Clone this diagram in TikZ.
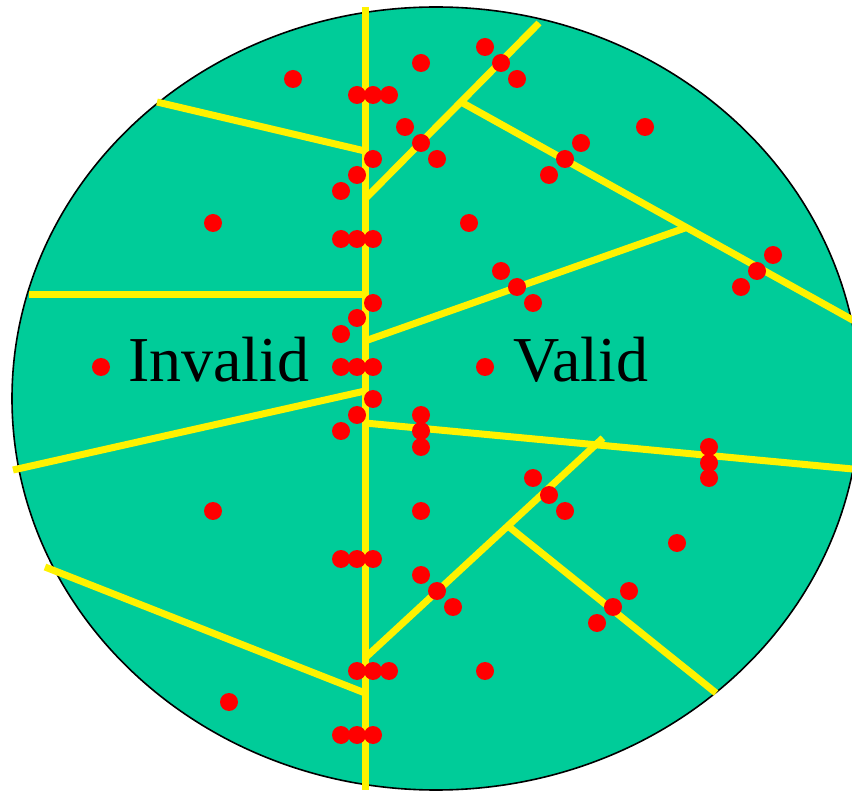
\documentclass[tikz,border=0pt]{standalone}
\usepackage{fontspec}
\setmainfont{Liberation Serif}
\definecolor{regiongreen}{RGB}{0,204,153}
\tikzset{
  border/.style={draw=black,line width=1.6pt,fill=regiongreen},
  wall/.style={draw=yellow,line width=7pt,line cap=butt},
  pt/.style={fill=red,draw=none},
  lbl/.style={inner sep=0pt,anchor=base west,font=\fontsize{64}{72}\selectfont}
}
\begin{document}
\begin{tikzpicture}[x=1pt,y=-1pt]
\clip (0,0) rectangle (852,791);
\fill[white] (0,0) rectangle (852,791);
\draw[border] (436,398.5) ellipse [x radius=424pt, y radius=391.5pt];
% junction coordinates
\coordinate (vt) at (365,7);
\coordinate (vb) at (365,790);
\coordinate (a1) at (157,102);
\coordinate (a2) at (365,151);
\coordinate (j1) at (365,199);
\coordinate (e1) at (539,23);
\coordinate (j2) at (461,102);
\coordinate (e2) at (858,323);
\coordinate (j3) at (365,341);
\coordinate (j4) at (685,228);
\coordinate (h1) at (29,295);
\coordinate (h2) at (365,295);
\coordinate (l1) at (13,470);
\coordinate (l2) at (365,391);
\coordinate (r1) at (365,423);
\coordinate (r2) at (858,469.5);
\coordinate (m1) at (365,658);
\coordinate (m2) at (603,438);
\coordinate (m3) at (508,526);
\coordinate (m4) at (716,693);
\coordinate (b1) at (45,567);
\coordinate (b2) at (365,693);
% yellow boundaries
\draw[wall] (vt) -- (vb);
\draw[wall] (a1) -- (a2);
\draw[wall] (j1) -- (e1);
\draw[wall] (j2) -- (e2);
\draw[wall] (j3) -- (j4);
\draw[wall] (h1) -- (h2);
\draw[wall] (l1) -- (l2);
\draw[wall] (r1) -- (r2);
\draw[wall] (m1) -- (m2);
\draw[wall] (m3) -- (m4);
\draw[wall] (b1) -- (b2);
% red points
\foreach \px/\py in {293/79, 357/95, 373/95, 389/95, 421/63, 485/47, 501/63, 517/79,
  405/127, 421/143, 437/159, 373/159, 357/175, 341/191, 645/127, 581/143, 565/159, 549/175,
  213/223, 469/223, 341/239, 357/239, 373/239, 773/255, 757/271, 741/287, 501/271, 517/287,
  533/303, 373/303, 357/318, 341/334, 101/367, 341/367, 357/367, 373/367, 485/367,
  373/399, 357/415, 341/431, 421/415, 421/431, 421/447, 709/447, 709/463, 709/478,
  533/478, 549/495, 565/511, 213/511, 421/511, 677/543, 341/559, 357/559, 373/559,
  421/575, 437/591, 453/607, 629/591, 613/607, 597/623, 357/671, 373/671, 389/671,
  485/671, 229/702, 341/735, 357/735, 373/735}
  \fill[pt] (\px,\py) circle (9pt);
% labels
\node[lbl] (invalid) at (128,382) {Invalid};
\node[lbl] (valid) at (513,382) {Valid};
\end{tikzpicture}
\end{document}
